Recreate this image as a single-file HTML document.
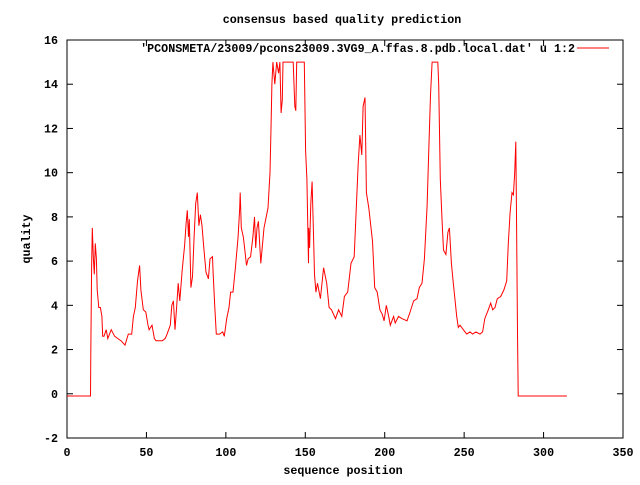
<!DOCTYPE html>
<html><head><meta charset="utf-8"><style>
body{margin:0;background:#fff}
svg text{font-family:"Liberation Mono",monospace;font-size:11.7px;font-weight:bold;fill:#000}
</style></head><body>
<svg id="chart" width="640" height="480" viewBox="0 0 640 480" xmlns="http://www.w3.org/2000/svg">
<rect width="640" height="480" fill="#fff"/>
<text x="342" y="23" text-anchor="middle">consensus based quality prediction</text>
<text x="343" y="474" text-anchor="middle">sequence position</text>
<text transform="translate(30,239) rotate(-90)" text-anchor="middle">quality</text>
<g id="axes"></g>
<polyline id="series" fill="none" stroke="#f00" stroke-width="1"/>
<g>
<text x="575" y="52" text-anchor="end">'PCONSMETA/23009/pcons23009.3VG9_A.ffas.8.pdb.local.dat' u 1:2</text>
<line x1="577" y1="48" x2="609" y2="48" stroke="#f00"/>
</g>
</svg>
<script>
const xTicks=[0,50,100,150,200,250,300,350];
const yTicks=[-2,0,2,4,6,8,10,12,14,16];
const positions=[0,14.8,15,15.5,15.9,16.6,17.2,17.8,18.5,19,20,21,22,22.5,23.3,24.7,25.7,27.8,30,32,34,36.5,38.6,40.7,41.8,43,44.4,45.7,46.5,48,49.6,51,51.7,53.5,55,56,58,60,61.8,63,65,66,67,68,69,70,71,72.5,74,75,75.7,76.5,77,78,79,80,81,82,83,84,85,86,87.5,89,90,91.6,92,93,94,96,98,99,100.5,102,103,104.5,106,107.7,108.7,109,109.7,111,111.8,113,114,115.6,117,118,118.8,119.6,120.5,122,124,126.5,127.8,128.4,129,129.6,130.8,132,133.2,134,134.8,135.5,136,142.4,143.4,144,144.6,149.4,150.2,151,152,152.2,152.7,153.5,154.3,155.2,155.8,156.7,157.7,159.5,161.5,163.5,165,166.5,169,171,173,174.6,176.7,178.8,180.8,181.9,183.3,184.4,185.6,186.4,187.6,188.5,190,192.3,193.7,195.3,197,198.4,199.6,201,202.5,203.5,205.6,206.6,208.7,210.8,214,216,218.2,220.3,221.8,223.5,225,226.7,227.7,228.8,229.8,233.4,234,235,236.1,237,238.5,239.8,240.7,242,243.2,244.2,245.3,246.3,247.4,249.5,251.6,253.7,255.3,257.4,260,261.6,263,265.2,266.7,268,269.4,270.9,273,275,276.8,277.8,278.9,280.1,281,281.8,282.5,282.9,283.6,284,314.7];
const quality=[-0.1,-0.1,1.8,5.7,7.5,6.1,5.4,6.8,6.1,4.7,3.9,3.9,3.5,2.6,2.6,2.9,2.5,2.9,2.6,2.5,2.4,2.2,2.7,2.7,3.5,3.9,5.1,5.8,4.7,3.8,3.7,3.1,2.9,3.1,2.5,2.4,2.4,2.4,2.5,2.7,3.1,4.0,4.2,2.9,3.9,5.0,4.2,5.6,6.7,7.7,8.3,7.1,7.9,4.8,5.3,7.1,8.6,9.1,7.6,8.1,7.6,6.7,5.5,5.2,6.1,6.2,5.5,4.0,2.7,2.7,2.8,2.6,3.4,3.9,4.6,4.6,5.7,7.1,8.4,9.1,7.5,7.1,6.6,5.8,6.1,6.2,7.1,8.0,6.6,7.5,7.8,5.9,7.5,8.4,10,12,14,15,14.0,15,14.5,15,12.7,13.3,15,15,13.0,12.8,15,15,11.0,9.7,5.9,7.5,6.6,8.6,9.6,7.2,5.4,4.6,5.0,4.3,5.7,5.0,3.9,3.8,3.4,3.8,3.5,4.4,4.6,5.9,6.2,8.1,10.4,11.7,10.8,13.0,13.4,9.1,8.4,6.9,4.8,4.6,3.8,3.6,3.3,4.0,3.5,3.1,3.5,3.2,3.5,3.4,3.3,3.7,4.2,4.3,4.8,5.0,6.1,8.5,10.9,13.5,15,15,14,9.7,7.8,6.5,6.3,7.3,7.5,5.9,5.0,4.3,3.5,3.0,3.1,2.9,2.7,2.8,2.7,2.8,2.7,2.8,3.4,3.8,4.1,3.8,3.9,4.3,4.4,4.7,5.1,6.8,8.2,9.1,9.0,10.0,11.4,8.6,2.8,-0.1,-0.1];
const L=67,R=623,T=40,B=438;
const xS=v=>L+(v-0)/350*(R-L);
const yS=v=>B-(v+2)/18*(B-T);
const NS="http://www.w3.org/2000/svg";
const axes=document.getElementById('axes');
function mk(tag,attrs){const e=document.createElementNS(NS,tag);for(const k in attrs)e.setAttribute(k,attrs[k]);return e;}
const frame=mk('rect',{x:L,y:T,width:R-L,height:B-T,fill:'none',stroke:'#000'});


axes.appendChild(frame);
xTicks.forEach(t=>{
  const x=xS(t);
  const a=mk('line',{x1:x,y1:B,x2:x,y2:B-6,stroke:'#000'});
  
  
  axes.appendChild(a);
  const b=mk('line',{x1:x,y1:T,x2:x,y2:T+6,stroke:'#000'});
  
  
  axes.appendChild(b);
  const lb=mk('text',{x:x,y:B+18,'text-anchor':'middle'});
  lb.textContent=t;
  
  
  axes.appendChild(lb);
});
yTicks.forEach(t=>{
  const y=yS(t);
  const a=mk('line',{x1:L,y1:y,x2:L+6,y2:y,stroke:'#000'});
  
  
  axes.appendChild(a);
  const b=mk('line',{x1:R,y1:y,x2:R-6,y2:y,stroke:'#000'});
  
  
  axes.appendChild(b);
  const lb=mk('text',{x:L-9,y:y+4,'text-anchor':'end'});
  lb.textContent=t;
  
  
  axes.appendChild(lb);
});
document.getElementById('series').setAttribute('points',positions.map((p,i)=>xS(p).toFixed(1)+','+yS(quality[i]).toFixed(1)).join(' '));
</script>
</body></html>
